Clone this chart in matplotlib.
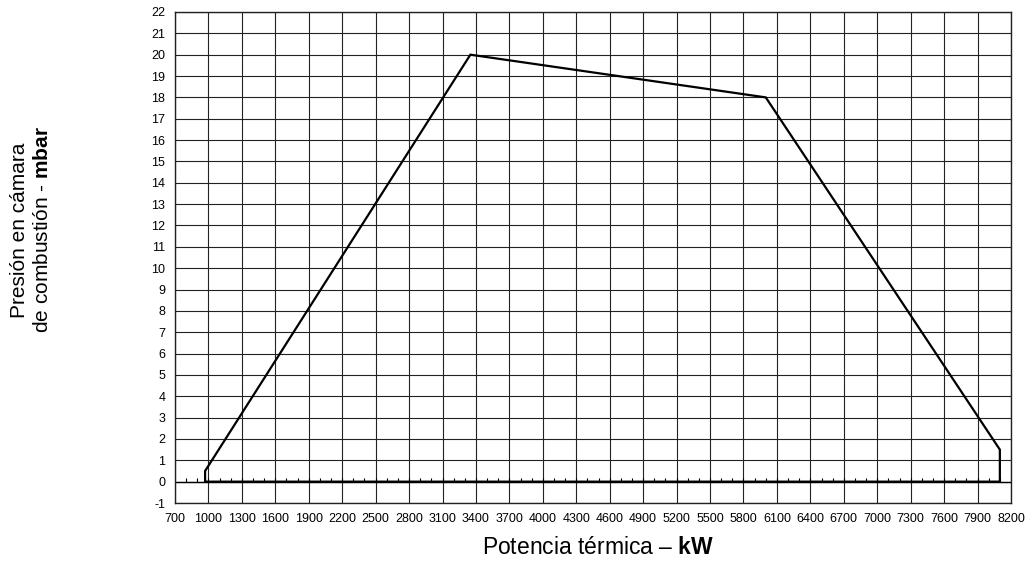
import numpy as np
import matplotlib.pyplot as plt

plt.rcParams['font.family'] = ['Liberation Sans', 'DejaVu Sans']
plt.rcParams['mathtext.fontset'] = 'custom'
plt.rcParams['mathtext.rm'] = 'Liberation Sans'
plt.rcParams['mathtext.bf'] = 'Liberation Sans:bold'
plt.rcParams['axes.unicode_minus'] = False

# working field outline (kW, mbar)
power_kw = [970, 970, 3350, 6000, 8100, 8100, 970]
pressure_mbar = [0, 0.5, 20, 18, 1.5, 0, 0]

x_ticks = np.arange(700, 8201, 300)
y_ticks = np.arange(-1, 23, 1)
minor_x = np.arange(800, 8200, 100)

fig = plt.figure(figsize=(10.26, 5.62), dpi=100)
ax = fig.add_axes([175 / 1026, 1 - 503 / 562, 836 / 1026, 491 / 562])

ax.set_xlim(700, 8200)
ax.set_ylim(-1, 22)
ax.set_xticks(x_ticks)
ax.set_yticks(y_ticks)
ax.tick_params(length=0, labelsize=9, pad=7)
ax.grid(True, color='#222222', linewidth=0.8)
ax.set_axisbelow(True)
for sp in ax.spines.values():
    sp.set_linewidth(1.0)
    sp.set_color('#222222')

# small ticks on the zero line
ax.vlines(minor_x, 0, 0.15, color='black', linewidth=0.8)
ax.axhline(0, color='black', linewidth=1.0)

ax.plot(power_kw, pressure_mbar, color='black', linewidth=1.6, solid_joinstyle='miter')

fig.text(598 / 1026, 1 - 548 / 562, 'Potencia térmica – $\\mathbf{kW}$',
         ha='center', va='center', fontsize=16.5)
fig.text(31 / 1026, 1 - 230 / 562, 'Presión en cámara\nde combustión - $\\mathbf{mbar}$',
         ha='center', va='center', rotation=90, fontsize=15, multialignment='center',
         linespacing=1.3)

fig.savefig('out.png', dpi=100)
